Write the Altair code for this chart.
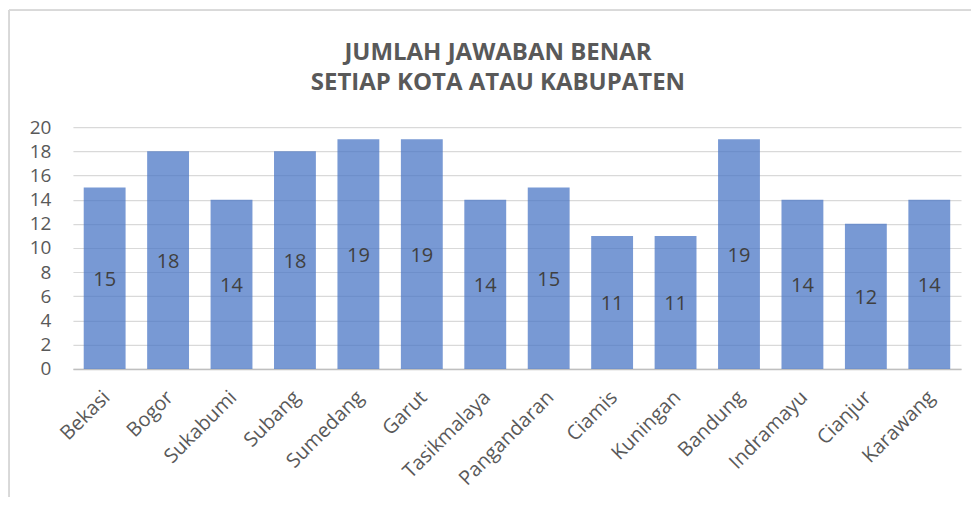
import altair as alt
import pandas as pd

kota = ["Bekasi", "Bogor", "Sukabumi", "Subang", "Sumedang", "Garut", "Tasikmalaya",
        "Pangandaran", "Ciamis", "Kuningan", "Bandung", "Indramayu", "Cianjur", "Karawang"]
jawaban_benar = [15, 18, 14, 18, 19, 19, 14, 15, 11, 11, 19, 14, 12, 14]
y_ticks = [0, 2, 4, 6, 8, 10, 12, 14, 16, 18, 20]
title_lines = ["JUMLAH JAWABAN BENAR", "SETIAP KOTA ATAU KABUPATEN"]

df = pd.DataFrame({"kota": kota, "nilai": jawaban_benar})
df["tengah"] = df["nilai"] / 2

FONT = "Open Sans"
GRAY = "#595959"

x_axis = alt.Axis(labelAngle=-45, labelFontSize=20, labelColor=GRAY, labelFont=FONT,
                  labelPadding=18, labelOffset=-5, ticks=False, domainColor="#BFBFBF",
                  domainWidth=1.5, grid=False, labelOverlap=False)
y_axis = alt.Axis(values=y_ticks, labelFontSize=19, labelColor=GRAY, labelFont=FONT,
                  ticks=False, domain=False, labelPadding=22, labelOverlap=False,
                  gridColor="#D9D9D9", gridWidth=1.2)
x_scale = alt.Scale(paddingInner=0.34, paddingOuter=0.17)
y_scale = alt.Scale(domain=[0, 20], nice=False)

frame = alt.Chart(df).mark_rect(fill=None, stroke="#D9D9D9", strokeWidth=1).encode(
    x=alt.value(-64), x2=alt.value(1030), y=alt.value(-117), y2=alt.value(600))

bars = alt.Chart(df).mark_bar(color="#4472C4", opacity=0.72).encode(
    x=alt.X("kota:N", sort=kota, title=None, scale=x_scale, axis=x_axis),
    y=alt.Y("nilai:Q", scale=y_scale, title=None, axis=y_axis),
)

labels = alt.Chart(df).mark_text(fontSize=20, color="#404040", font=FONT, dy=2).encode(
    x=alt.X("kota:N", sort=kota, title=None, scale=x_scale, axis=x_axis),
    y=alt.Y("tengah:Q", scale=y_scale, title=None, axis=y_axis),
    text="nilai:Q",
)

chart = alt.layer(frame, bars, labels).properties(
    width=889, height=242,
    autosize=alt.AutoSizeParams(type="none"),
    padding={"left": 65, "top": 119, "right": 10, "bottom": 128},
    title=alt.Title(title_lines, fontSize=24, font=FONT, fontWeight="bold", color=GRAY,
                    lineHeight=30, anchor="middle", offset=-85, dx=-19),
).configure_view(stroke=None)

chart.save("out.html", embed_options={"renderer": "svg", "actions": False})
